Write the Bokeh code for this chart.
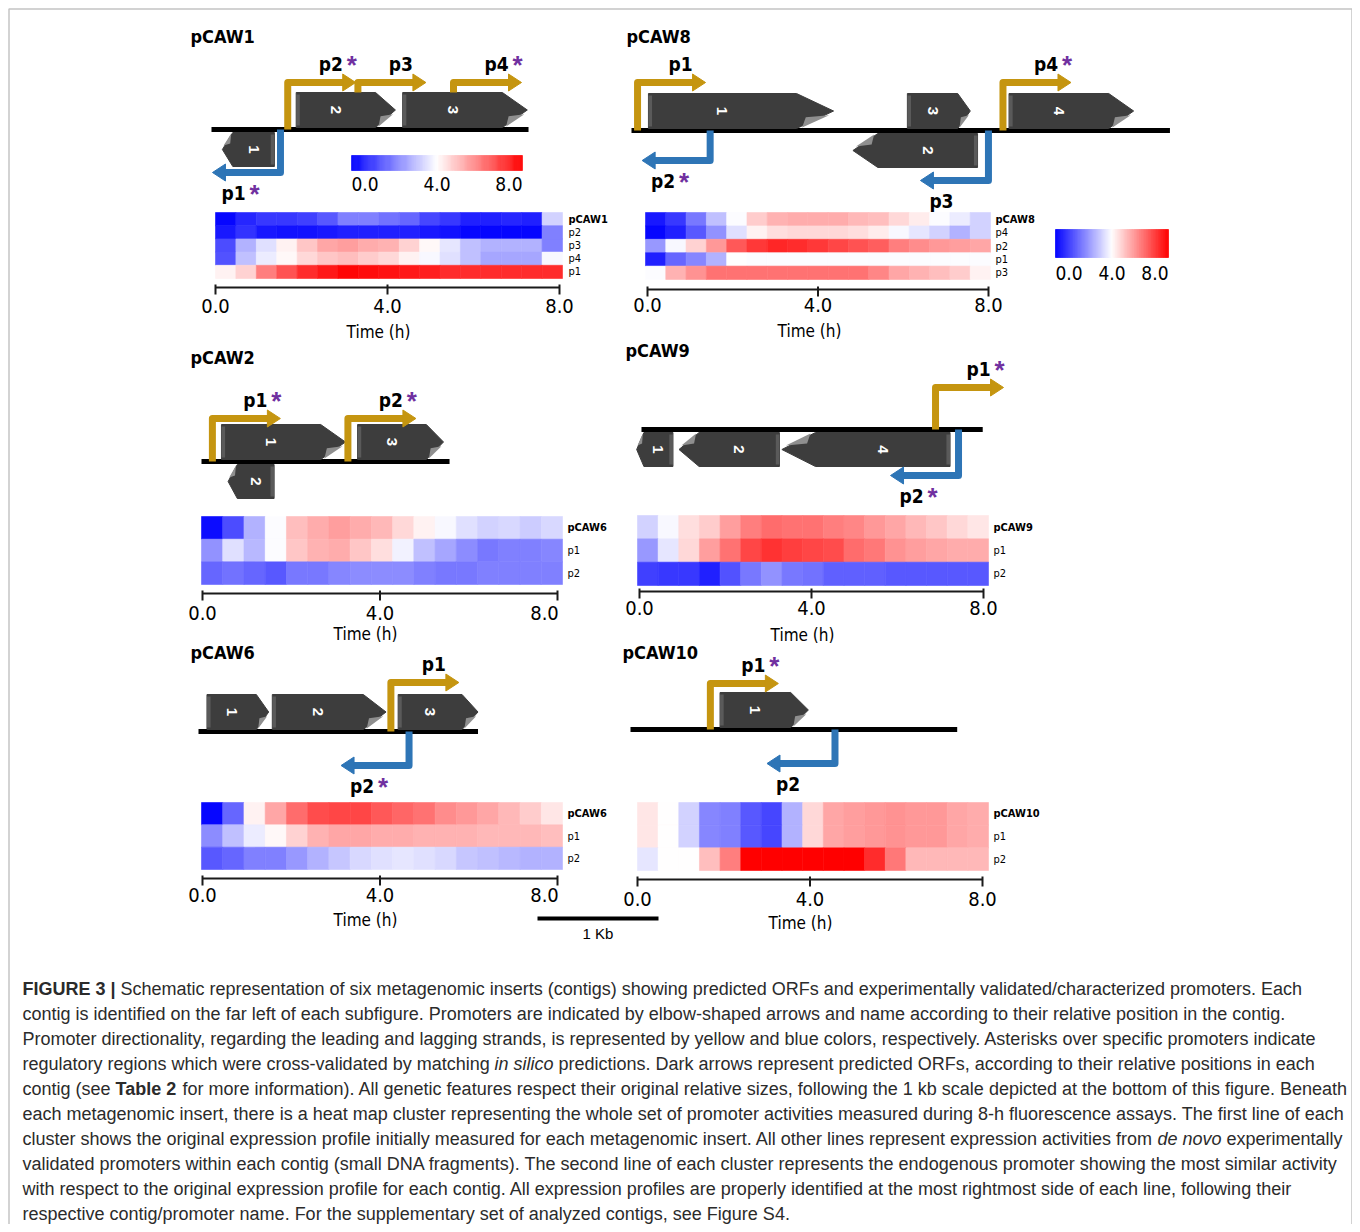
import numpy as np
from bokeh.plotting import figure
from bokeh.models import Range1d, ColumnDataSource, LinearColorMapper
from bokeh.core.properties import value
from bokeh.embed import file_html
from bokeh.resources import INLINE

NARROW = "DejaVu Sans Condensed, Roboto"
SANS = "Liberation Sans"

# ------------------------------------------------------------------ data
TIME_TICKS = [0, 4, 8]
TIME_TICK_LABELS = ["0.0", "4.0", "8.0"]

# heat maps: 17 time points (0..8 h), values on the 0..8 colour scale
pCAW1_rows = ["pCAW1", "p2", "p3", "p4", "p1"]
pCAW1_vals = [
    [0.1, 0.6, 0.9, 0.9, 1.0, 1.4, 2.0, 2.0, 1.8, 1.6, 1.1, 0.9, 0.5, 0.5, 0.6, 0.5, 3.3],
    [0.4, 0.8, 0.4, 0.3, 0.3, 0.4, 0.5, 0.5, 0.5, 0.5, 0.4, 0.3, 0.1, 0.1, 0.1, 0.1, 2.0],
    [1.2, 2.8, 3.5, 4.2, 4.9, 5.4, 5.5, 5.3, 5.2, 4.7, 4.1, 3.6, 3.0, 2.8, 2.8, 2.8, 2.0],
    [1.3, 3.0, 3.7, 4.1, 4.6, 4.9, 5.0, 4.8, 4.6, 4.2, 3.9, 3.5, 3.0, 2.6, 2.6, 2.6, 3.9],
    [4.2, 4.7, 6.0, 6.7, 7.3, 7.6, 7.9, 7.8, 7.7, 7.6, 7.5, 7.3, 7.3, 7.3, 7.3, 7.3, 7.3],
]
pCAW8_rows = ["pCAW8", "p4", "p2", "p1", "p3"]
pCAW8_vals = [
    [0.4, 0.9, 1.9, 3.0, 3.95, 4.8, 5.2, 5.3, 5.3, 5.3, 5.1, 5.0, 4.6, 4.3, 3.95, 3.7, 3.3],
    [0.1, 0.5, 1.4, 2.3, 3.5, 4.2, 4.5, 4.6, 4.6, 4.6, 4.5, 4.3, 3.9, 3.6, 3.3, 2.8, 3.3],
    [2.4, 3.9, 4.7, 5.6, 6.6, 7.1, 7.4, 7.3, 7.1, 6.9, 6.7, 6.5, 6.0, 5.8, 5.6, 5.5, 5.4],
    [0.5, 1.6, 2.1, 2.8, 4.0, 3.95, 3.95, 3.95, 3.95, 3.95, 3.95, 3.95, 3.95, 3.95, 3.95, 3.95, 3.95],
    [3.95, 5.2, 5.7, 6.2, 6.2, 6.2, 6.2, 6.2, 6.2, 6.2, 6.2, 5.9, 5.4, 5.2, 5.0, 4.8, 4.2],
]
pCAW2_rows = ["pCAW6", "p1", "p2"]
pCAW2_vals = [
    [0.2, 1.2, 2.8, 3.95, 5.0, 5.3, 5.5, 5.3, 5.1, 4.6, 4.2, 3.9, 3.5, 3.3, 3.4, 3.2, 3.4],
    [2.3, 3.5, 2.9, 3.95, 4.9, 5.2, 5.3, 4.9, 4.5, 3.8, 3.0, 2.6, 2.2, 1.9, 2.0, 2.0, 2.1],
    [1.6, 1.8, 1.6, 1.4, 1.9, 1.9, 2.1, 2.2, 2.2, 2.2, 2.0, 1.9, 1.9, 2.0, 2.0, 2.0, 2.0],
]
pCAW9_rows = ["pCAW9", "p1", "p2"]
pCAW9_vals = [
    [3.3, 3.9, 4.5, 4.8, 5.5, 6.0, 6.3, 6.2, 6.2, 6.0, 5.9, 5.6, 5.4, 5.1, 4.9, 4.6, 4.4],
    [2.4, 3.6, 4.6, 5.5, 6.2, 6.9, 7.2, 7.0, 6.9, 6.8, 6.3, 6.1, 5.7, 5.5, 5.4, 5.3, 5.3],
    [1.0, 0.9, 0.9, 0.5, 1.3, 1.9, 2.3, 1.9, 1.8, 1.5, 1.5, 1.5, 1.4, 1.4, 1.4, 1.4, 1.4],
]
pCAW6_rows = ["pCAW6", "p1", "p2"]
pCAW6_vals = [
    [0.1, 1.6, 4.2, 5.4, 6.3, 6.8, 6.9, 6.9, 6.6, 6.4, 6.2, 5.8, 5.6, 5.4, 5.1, 4.8, 4.4],
    [2.2, 3.0, 3.7, 4.1, 4.7, 5.2, 5.4, 5.4, 5.3, 5.3, 5.2, 5.2, 5.2, 5.1, 5.1, 5.1, 5.0],
    [1.4, 1.6, 2.0, 2.0, 2.4, 2.8, 3.1, 3.4, 3.5, 3.6, 3.5, 3.4, 3.1, 3.0, 2.9, 2.8, 2.8],
]
pCAW10_rows = ["pCAW10", "p1", "p2"]
pCAW10_vals = [
    [4.4, 4.0, 3.3, 2.1, 2.0, 1.4, 1.1, 2.8, 4.6, 5.4, 5.5, 5.6, 5.7, 5.6, 5.6, 5.4, 5.3],
    [4.4, 4.0, 3.3, 2.1, 2.0, 1.4, 1.1, 2.8, 4.6, 5.4, 5.5, 5.6, 5.7, 5.6, 5.6, 5.4, 5.3],
    [3.6, 4.0, 4.0, 5.0, 6.0, 8.0, 8.0, 8.0, 8.0, 8.0, 8.0, 7.3, 6.1, 5.1, 5.1, 5.1, 5.1],
]

# contigs: ORFs (kb from contig start) and promoters
pCAW1_len = 2.62
pCAW1_orf_name = ["1", "2", "3"]
pCAW1_orf_start = [0.09, 0.70, 1.58]
pCAW1_orf_end = [0.52, 1.52, 2.61]
pCAW1_orf_strand = [-1, 1, 1]
pCAW1_prom_name = ["p1", "p2", "p3", "p4"]
pCAW1_prom_pos = [0.57, 0.63, 1.21, 2.00]
pCAW1_prom_strand = [-1, 1, 1, 1]
pCAW1_prom_star = [True, True, False, True]

pCAW8_len = 4.45
pCAW8_orf_name = ["1", "2", "3", "4"]
pCAW8_orf_start = [0.14, 1.83, 2.28, 3.12]
pCAW8_orf_end = [1.67, 2.86, 2.80, 4.15]
pCAW8_orf_strand = [1, -1, 1, 1]
pCAW8_prom_name = ["p1", "p2", "p3", "p4"]
pCAW8_prom_pos = [0.05, 0.65, 2.95, 3.07]
pCAW8_prom_strand = [1, -1, -1, 1]
pCAW8_prom_star = [False, True, False, True]

pCAW2_len = 2.05
pCAW2_orf_name = ["1", "2", "3"]
pCAW2_orf_start = [0.165, 0.22, 1.29]
pCAW2_orf_end = [1.19, 0.60, 2.00]
pCAW2_orf_strand = [1, -1, 1]
pCAW2_prom_name = ["p1", "p2"]
pCAW2_prom_pos = [0.09, 1.21]
pCAW2_prom_strand = [1, 1]
pCAW2_prom_star = [True, True]

pCAW9_len = 2.82
pCAW9_orf_name = ["1", "2", "4"]
pCAW9_orf_start = [-0.04, 0.31, 1.16]
pCAW9_orf_end = [0.26, 1.14, 2.55]
pCAW9_orf_strand = [-1, -1, -1]
pCAW9_prom_name = ["p1", "p2"]
pCAW9_prom_pos = [2.43, 2.62]
pCAW9_prom_strand = [1, -1]
pCAW9_prom_star = [True, True]

pCAW6_len = 2.31
pCAW6_orf_name = ["1", "2", "3"]
pCAW6_orf_start = [0.07, 0.61, 1.65]
pCAW6_orf_end = [0.58, 1.55, 2.31]
pCAW6_orf_strand = [1, 1, 1]
pCAW6_prom_name = ["p1", "p2"]
pCAW6_prom_pos = [1.59, 1.74]
pCAW6_prom_strand = [1, -1]
pCAW6_prom_star = [False, True]

pCAW10_len = 2.70
pCAW10_orf_name = ["1"]
pCAW10_orf_start = [0.74]
pCAW10_orf_end = [1.47]
pCAW10_orf_strand = [1]
pCAW10_prom_name = ["p1", "p2"]
pCAW10_prom_pos = [0.66, 1.69]
pCAW10_prom_strand = [1, -1]
pCAW10_prom_star = [True, False]

SCALE_KB = 1.0

CAPTION = [
    [("b", "FIGURE 3 |"), ("n", "Schematic representation of six metagenomic inserts (contigs) showing predicted ORFs and experimentally validated/characterized promoters. Each")],
    [("n", "contig is identified on the far left of each subfigure. Promoters are indicated by elbow-shaped arrows and name according to their relative position in the contig.")],
    [("n", "Promoter directionality, regarding the leading and lagging strands, is represented by yellow and blue colors, respectively. Asterisks over specific promoters indicate")],
    [("n", "regulatory regions which were cross-validated by matching"), ("i", "in silico"), ("n", "predictions. Dark arrows represent predicted ORFs, according to their relative positions in each")],
    [("n", "contig (see"), ("b", "Table 2"), ("n", "for more information). All genetic features respect their original relative sizes, following the 1 kb scale depicted at the bottom of this figure. Beneath")],
    [("n", "each metagenomic insert, there is a heat map cluster representing the whole set of promoter activities measured during 8-h fluorescence assays. The first line of each")],
    [("n", "cluster shows the original expression profile initially measured for each metagenomic insert. All other lines represent expression activities from"), ("i", "de novo"), ("n", "experimentally")],
    [("n", "validated promoters within each contig (small DNA fragments). The second line of each cluster represents the endogenous promoter showing the most similar activity")],
    [("n", "with respect to the original expression profile for each contig. All expression profiles are properly identified at the most rightmost side of each line, following their")],
    [("n", "respective contig/promoter name. For the supplementary set of analyzed contigs, see Figure S4.")],
]

# ------------------------------------------------------------------ layout / style
KBPX = 121.0          # pixels per kb (length of the scale bar)
YELLOW = "#C59510"
BLUE = "#2E75B6"
PURPLE = "#7030A0"
ORF_FILL = "#3d3d3d"

W, H = 1352, 1224
p = figure(width=W, height=H, x_range=Range1d(0, W), y_range=Range1d(H, 0),
           output_backend="svg", toolbar_location=None, min_border=0,
           x_axis_location=None, y_axis_location=None)
p.grid.visible = False
p.outline_line_color = None
p.background_fill_color = "white"

# panel frame
p.multi_line(xs=[[8.5, 8.5, 1351.5, 1351.5]], ys=[[1240, 8.5, 8.5, 1240]],
             line_color="#c4c4c4", line_width=1.5)


def bwr(n=256):
    out = []
    for i in range(n):
        t = i / (n - 1)
        if t < 0.5:
            f = t / 0.5
            out.append("#%02x%02x%02x" % (int(round(255 * f)), int(round(255 * f)), 255))
        else:
            f = (1 - t) / 0.5
            out.append("#%02x%02x%02x" % (255, int(round(255 * f)), int(round(255 * f))))
    return out


mapper = LinearColorMapper(palette=bwr(), low=0, high=8)
CMAP = {"field": "v", "transform": mapper}


def put_text(g, xs, ys, texts, size, font=NARROW, style="normal", color="black",
             align="center", baseline="middle", angle=0.0, x_offset=0):
    g.text(x=list(xs), y=list(ys), text=list(texts), text_font=value(font),
           text_font_style=style, text_font_size=size, text_color=color,
           text_align=align, text_baseline=baseline, angle=angle, x_offset=x_offset)


def draw_heatmap(rows, vals, box, rowlab_x):
    x0, x1, y0, y1 = box
    n, m = len(rows), len(vals[0])
    g = p.subplot(x_source=Range1d(0, m), y_source=Range1d(0, n),
                  x_target=Range1d(x0, x1), y_target=Range1d(y0, y1))
    cc, rr, vv = [], [], []
    for r, row in enumerate(vals):
        for c, v in enumerate(row):
            cc.append(c); rr.append(r); vv.append(v)
    src = ColumnDataSource(dict(l=cc, rt=[c + 1 for c in cc], t=rr, b=[r + 1 for r in rr], v=vv))
    g.quad(left="l", right="rt", top="t", bottom="b", source=src,
           fill_color=CMAP, line_color=CMAP, line_width=0.6)
    lab = p.subplot(x_source=p.x_range, x_target=p.x_range,
                    y_source=Range1d(0, n), y_target=Range1d(y0, y1))
    put_text(lab, [rowlab_x], [0.5], [rows[0]], "11px", style="bold", align="left")
    put_text(lab, [rowlab_x] * (n - 1), [r + 0.5 for r in range(1, n)], rows[1:], "11px", align="left")


def draw_time_axis(ax0, ax1, y, lab_y, dx, time_xy):
    g = p.subplot(x_source=Range1d(0, 8), x_target=Range1d(ax0, ax1),
                  y_source=p.y_range, y_target=p.y_range)
    g.segment(x0=[0], y0=[y], x1=[8], y1=[y], line_color="#1a1a1a", line_width=2)
    g.segment(x0=TIME_TICKS, y0=[y - 3] * 3, x1=TIME_TICKS, y1=[y + 7] * 3,
              line_color="#1a1a1a", line_width=2)
    put_text(g, TIME_TICKS, [lab_y] * 3, TIME_TICK_LABELS, "20px", x_offset=dx)
    put_text(p, [time_xy[0]], [time_xy[1]], ["Time (h)"], "17px")


def draw_colorbar(x0, x1, y0, y1, lab_y):
    g = p.subplot(x_source=Range1d(0, 8), x_target=Range1d(x0, x1),
                  y_source=p.y_range, y_target=p.y_range)
    edges = np.linspace(0, 8, 161)
    src = ColumnDataSource(dict(l=edges[:-1], rt=edges[1:], v=(edges[:-1] + edges[1:]) / 2))
    g.quad(left="l", right="rt", top=y0, bottom=y1, source=src,
           fill_color=CMAP, line_color=CMAP, line_width=0.6)
    for t, lab, al in zip(TIME_TICKS, TIME_TICK_LABELS, ["left", "center", "right"]):
        put_text(g, [t], [lab_y], [lab], "19px", align=al)


def draw_contig(x0, ly, length, names, starts, ends, strands,
                pnames, ppos, pstr, pstar, elbows):
    g = p.subplot(x_source=Range1d(0, 1), x_target=Range1d(x0, x0 + KBPX),
                  y_source=p.y_range, y_target=p.y_range)
    g.segment(x0=[0], y0=[ly], x1=[length], y1=[ly], line_color="black", line_width=5)
    # ORFs
    for nm, s, e, st in zip(names, starts, ends, strands):
        tip = 0.2 * (e - s)
        if st > 0:
            top, bot = ly - 37, ly - 2
        else:
            top, bot = ly + 3, ly + 37
        mid = (top + bot) / 2
        h = bot - top
        if st > 0:
            xs = [s, e - tip, e, e - tip, s]
            cx = (s + e - tip) / 2
            curl_x = [e - 0.12 * tip, e - 0.85 * tip, e - 0.75 * tip]
            curl_y = [mid + 0.12 * h, bot - 1, mid + 0.18 * h]
            edge_x = [s, s + 0.03]
        else:
            xs = [e, s + tip, s, s + tip, e]
            cx = (s + tip + e) / 2
            curl_x = [s + 0.12 * tip, s + 0.85 * tip, s + 0.75 * tip]
            curl_y = [mid - 0.12 * h, top + 1, mid - 0.18 * h]
            edge_x = [e - 0.03, e]
        g.patch(xs, [top, top, mid, bot, bot], fill_color=ORF_FILL, line_color=ORF_FILL, line_width=1)
        g.quad(left=[edge_x[0]], right=[edge_x[1]], top=[top + 2], bottom=[bot - 2],
               fill_color="#5a5a5a", line_color=None)
        g.patch(curl_x, curl_y, fill_color="#8f8f8f", line_color=None)
        put_text(g, [cx], [mid], [nm], "15px", font=SANS, style="bold", color="white",
                 angle=-np.pi / 2)
    # promoters
    L = 68 / KBPX
    head = 13 / KBPX
    for nm, pos, st, star, el in zip(pnames, ppos, pstr, pstar, elbows):
        col = YELLOW if st > 0 else BLUE
        y_start = ly
        for s, e, ost in zip(starts, ends, strands):
            if ost == st and s <= pos <= e:
                y_start = ly - 37 if st > 0 else ly + 37
        ey = ly - el if st > 0 else ly + el
        tip = pos + st * L
        base = pos + st * (L - head)
        g.line([pos, pos, base + st * 0.01], [y_start, ey, ey], line_color=col, line_width=7,
               line_join="round")
        g.patch([base, tip, base], [ey - 8.5, ey, ey + 8.5], fill_color=col, line_color=col, line_width=1)
        if st > 0:
            lx, lyy = tip - 25 / KBPX, ey - 19
        else:
            lx, lyy = tip + 21 / KBPX, ey + 20
        put_text(g, [lx], [lyy], [nm], "19px", style="bold")
        if star:
            put_text(g, [lx + 21 / KBPX], [lyy + 1], ["*"], "26px", font=SANS, style="bold", color=PURPLE)


PANELS = [
    dict(title="pCAW1", title_xy=(190, 36), line=(211, 129), hm=(215, 562, 212, 278), rowlab=568,
         ax=(215, 559, 287), tick_y=305, dx=[0, 0, 0], time=(378, 331),
         contig=(pCAW1_len, pCAW1_orf_name, pCAW1_orf_start, pCAW1_orf_end, pCAW1_orf_strand,
                 pCAW1_prom_name, pCAW1_prom_pos, pCAW1_prom_strand, pCAW1_prom_star),
         elbows=[43, 47, 47, 47], heat=(pCAW1_rows, pCAW1_vals)),
    dict(title="pCAW8", title_xy=(626, 36), line=(631, 130), hm=(645, 990, 212, 279), rowlab=995,
         ax=(647, 988, 289), tick_y=304, dx=[0, 0, 0], time=(809, 330),
         contig=(pCAW8_len, pCAW8_orf_name, pCAW8_orf_start, pCAW8_orf_end, pCAW8_orf_strand,
                 pCAW8_prom_name, pCAW8_prom_pos, pCAW8_prom_strand, pCAW8_prom_star),
         elbows=[48, 30, 50, 48], heat=(pCAW8_rows, pCAW8_vals)),
    dict(title="pCAW2", title_xy=(190, 357), line=(201, 461), hm=(201, 562, 516, 584), rowlab=567,
         ax=(202, 557, 593), tick_y=612, dx=[0, 0, -13], time=(365, 633),
         contig=(pCAW2_len, pCAW2_orf_name, pCAW2_orf_start, pCAW2_orf_end, pCAW2_orf_strand,
                 pCAW2_prom_name, pCAW2_prom_pos, pCAW2_prom_strand, pCAW2_prom_star),
         elbows=[43, 43], heat=(pCAW2_rows, pCAW2_vals)),
    dict(title="pCAW9", title_xy=(625, 350), line=(641, 429), hm=(637, 988, 515, 585), rowlab=993,
         ax=(639, 983, 591), tick_y=607, dx=[0, 0, 0], time=(802, 634),
         contig=(pCAW9_len, pCAW9_orf_name, pCAW9_orf_start, pCAW9_orf_end, pCAW9_orf_strand,
                 pCAW9_prom_name, pCAW9_prom_pos, pCAW9_prom_strand, pCAW9_prom_star),
         elbows=[42, 46], heat=(pCAW9_rows, pCAW9_vals)),
    dict(title="pCAW6", title_xy=(190, 652), line=(198, 731), hm=(201, 562, 802, 869), rowlab=567,
         ax=(202, 557, 878), tick_y=894, dx=[0, 0, -13], time=(365, 919),
         contig=(pCAW6_len, pCAW6_orf_name, pCAW6_orf_start, pCAW6_orf_end, pCAW6_orf_strand,
                 pCAW6_prom_name, pCAW6_prom_pos, pCAW6_prom_strand, pCAW6_prom_star),
         elbows=[49, 34], heat=(pCAW6_rows, pCAW6_vals)),
    dict(title="pCAW10", title_xy=(622, 652), line=(630, 729), hm=(637, 988, 802, 870), rowlab=993,
         ax=(637, 982, 879), tick_y=898, dx=[0, 0, 0], time=(800, 922),
         contig=(pCAW10_len, pCAW10_orf_name, pCAW10_orf_start, pCAW10_orf_end, pCAW10_orf_strand,
                 pCAW10_prom_name, pCAW10_prom_pos, pCAW10_prom_strand, pCAW10_prom_star),
         elbows=[46, 34], heat=(pCAW10_rows, pCAW10_vals)),
]

for P in PANELS:
    put_text(p, [P["title_xy"][0]], [P["title_xy"][1]], [P["title"]], "18px", style="bold", align="left")
    draw_contig(P["line"][0], P["line"][1], *P["contig"], P["elbows"])
    draw_heatmap(P["heat"][0], P["heat"][1], P["hm"], P["rowlab"])
    draw_time_axis(P["ax"][0], P["ax"][1], P["ax"][2], P["tick_y"], P["dx"], P["time"])

# colour bars
draw_colorbar(351, 522, 155, 170, 183)
draw_colorbar(1055, 1168, 229, 257, 272)

# 1 kb scale bar
sb = p.subplot(x_source=Range1d(0, 1), x_target=Range1d(537, 537 + KBPX),
               y_source=p.y_range, y_target=p.y_range)
sb.segment(x0=[0], y0=[918], x1=[SCALE_KB], y1=[918], line_color="black", line_width=4)
put_text(sb, [SCALE_KB / 2], [933], ["1 Kb"], "15px", font=SANS)

# caption (segment start positions from Arial metrics at 18px; spaces between segments included)
CAP_X0 = 22
CAP_Y0 = 988
CAP_DY = 25.1
SEG_X = {(0, 1): 120, (3, 1): 494, (3, 2): 558, (4, 1): 115, (4, 2): 182, (6, 1): 1157, (6, 2): 1226}
for i, line in enumerate(CAPTION):
    for j, (sty, txt) in enumerate(line):
        x = SEG_X.get((i, j), CAP_X0)
        style = {"n": "normal", "b": "bold", "i": "italic"}[sty]
        put_text(p, [x], [CAP_Y0 + i * CAP_DY], [txt], "18px", font=SANS, style=style,
                 color="#2b2b2b", align="left")

open("out.html", "w").write(file_html(p, INLINE))
